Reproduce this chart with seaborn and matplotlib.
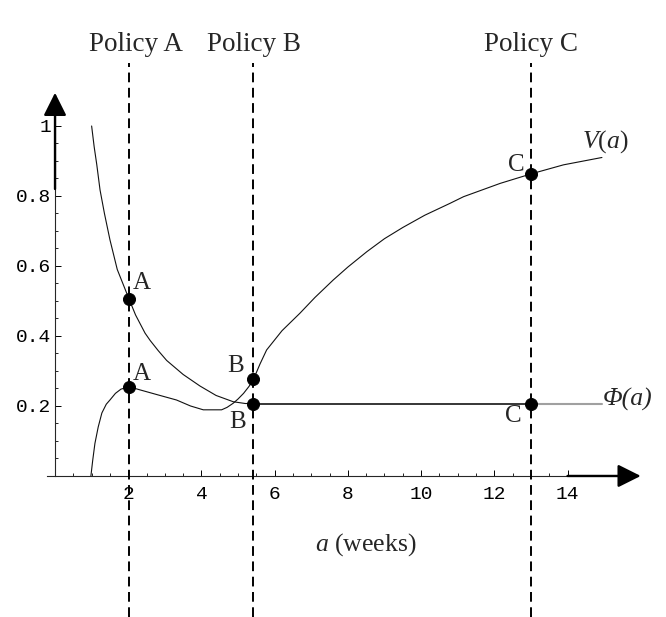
import matplotlib
matplotlib.use("Agg")
import matplotlib.pyplot as plt
import seaborn as sns

# lower curve: Phi before policy B, then V(a)
v_x = [0.98, 1.03, 1.09, 1.18, 1.28, 1.4, 1.5, 1.65, 1.8, 2.02, 2.32, 2.8, 3.32, 3.7, 4.05,
       4.55, 4.7, 4.87, 5.0, 5.15, 5.3, 5.42, 5.6, 5.78, 6.2, 6.69, 7.1, 7.6, 8.0, 8.52,
       9.0, 9.5, 10.1, 10.79, 11.16, 12.16, 13.0, 13.89, 14.94]
v_y = [0.0, 0.045, 0.093, 0.14, 0.18, 0.205, 0.217, 0.236, 0.248, 0.255, 0.246, 0.232, 0.217,
       0.2, 0.189, 0.189, 0.196, 0.208, 0.22, 0.236, 0.256, 0.276, 0.32, 0.36, 0.415, 0.465,
       0.51, 0.56, 0.597, 0.641, 0.678, 0.71, 0.745, 0.779, 0.798, 0.836, 0.863, 0.889, 0.91]

# upper curve: decreasing, then flat Phi(a)
u_x = [1.0, 1.07, 1.14, 1.23, 1.35, 1.5, 1.7, 2.02, 2.2, 2.46, 2.6, 2.82, 3.05, 3.5, 3.96,
       4.4, 4.87, 5.2, 5.42]
u_y = [1.0, 0.94, 0.89, 0.817, 0.75, 0.675, 0.59, 0.506, 0.46, 0.408, 0.387, 0.358, 0.33,
       0.29, 0.257, 0.23, 0.212, 0.207, 0.207]

phi_x = [5.42, 13.0]
phi_y = [0.207, 0.207]
phi_tail_x = [13.0, 14.94]
phi_tail_y = [0.207, 0.207]

policies = ["Policy A", "Policy B", "Policy C"]
policy_x = [2.02, 5.42, 13.0]

dot_x = [2.02, 2.02, 5.42, 5.42, 13.0, 13.0]
dot_y = [0.506, 0.255, 0.276, 0.207, 0.863, 0.207]
dot_lab = ["A", "A", "B", "B", "C", "C"]

x_ticks = [2, 4, 6, 8, 10, 12, 14]
y_ticks = [0.2, 0.4, 0.6, 0.8, 1.0]
y_ticklabels = ["0.2", "0.4", "0.6", "0.8", "1"]

sns.set_style("white")
plt.rcParams["font.family"] = ["Liberation Serif", "DejaVu Serif"]
plt.rcParams["mathtext.fontset"] = "custom"
plt.rcParams["mathtext.it"] = "Liberation Serif:italic"
plt.rcParams["mathtext.rm"] = "Liberation Serif"
plt.rcParams["lines.scale_dashes"] = False

fig = plt.figure(figsize=(6.66, 6.17), dpi=100)
ax = fig.add_axes([0, 0, 1, 1])
ax.set_xlim(-1.503, 16.69)
ax.set_ylim(-0.403, 1.36)

# curves
sns.lineplot(x=v_x, y=v_y, sort=False, estimator=None, color="#111111", lw=0.8, ax=ax)
sns.lineplot(x=u_x, y=u_y, sort=False, estimator=None, color="#111111", lw=0.8, ax=ax)
sns.lineplot(x=phi_x, y=phi_y, sort=False, estimator=None, color="black", lw=1.1, ax=ax)
sns.lineplot(x=phi_tail_x, y=phi_tail_y, sort=False, estimator=None, color="#a0a0a0", lw=1.5, ax=ax)

# policy lines
for name, px in zip(policies, policy_x):
    ax.plot([px, px], [-0.403, 1.18], color="black", lw=1.4, dashes=(7, 4), clip_on=False, zorder=3)
off = {"Policy A": 0.19, "Policy B": 0.01, "Policy C": 0.0}
for name, px in zip(policies, policy_x):
    ax.text(px + off[name], 1.214, name, ha="center", va="baseline", fontsize=19.5)

sns.scatterplot(x=dot_x, y=dot_y, color="black", s=75, edgecolor="black", zorder=5, ax=ax)

lab_pos = [(2.37, 0.55), (2.37, 0.29), (4.94, 0.315), (5.0, 0.153), (12.59, 0.889), (12.52, 0.17)]
for lab, (lx, ly) in zip(dot_lab, lab_pos):
    ax.text(lx, ly, lab, ha="center", va="center", fontsize=18)

ax.text(14.4, 0.955, r"$V(a)$", ha="left", va="center", fontsize=18.5)
ax.text(14.95, 0.218, "Φ(a)", ha="left", va="center", fontsize=18.5, fontstyle="italic")
ax.text(8.49, -0.197, r"$a$ (weeks)", ha="center", va="center", fontsize=18.5)

# axes through origin
for s in ["top", "right"]:
    ax.spines[s].set_visible(False)
ax.spines["left"].set_position(("data", 0))
ax.spines["bottom"].set_position(("data", 0))
ax.spines["left"].set_bounds(0, 1.04)
ax.spines["bottom"].set_bounds(-0.23, 15.4)
ax.spines["left"].set_linewidth(0.8)
ax.spines["bottom"].set_linewidth(0.8)

ax.annotate("", xy=(16.0, 0), xytext=(14.0, 0),
            arrowprops=dict(arrowstyle="-|>,head_length=1.0,head_width=0.5", lw=1.7,
                            color="black", shrinkA=0, shrinkB=0, mutation_scale=14))
ax.annotate("", xy=(0, 1.095), xytext=(0, 0.82),
            arrowprops=dict(arrowstyle="-|>,head_length=1.0,head_width=0.5", lw=1.7,
                            color="black", shrinkA=0, shrinkB=0, mutation_scale=14))

ax.set_xticks(x_ticks)
ax.set_xticklabels([str(t) for t in x_ticks])
ax.set_xticks([i * 0.5 for i in range(1, 29) if i % 4 != 0], minor=True)
ax.set_yticks(y_ticks)
ax.set_yticklabels(y_ticklabels)
ax.set_yticks([i * 0.05 for i in range(1, 20) if i % 4 != 0], minor=True)

ax.tick_params(which="both", bottom=True, left=True, top=False, right=False)
ax.tick_params(which="major", direction="in", length=4.0, width=0.7, colors="black")
ax.tick_params(which="minor", direction="in", length=2.2, width=0.6, colors="black")
ax.tick_params(axis="x", which="major", pad=7)
ax.tick_params(axis="y", which="major", pad=2.5)
for lbl in ax.get_xticklabels() + ax.get_yticklabels():
    lbl.set_fontfamily("Liberation Mono")
    lbl.set_fontsize(14)

ax.set_xlabel("")
ax.set_ylabel("")
ax.patch.set_visible(False)

fig.savefig("out.png", dpi=100)
